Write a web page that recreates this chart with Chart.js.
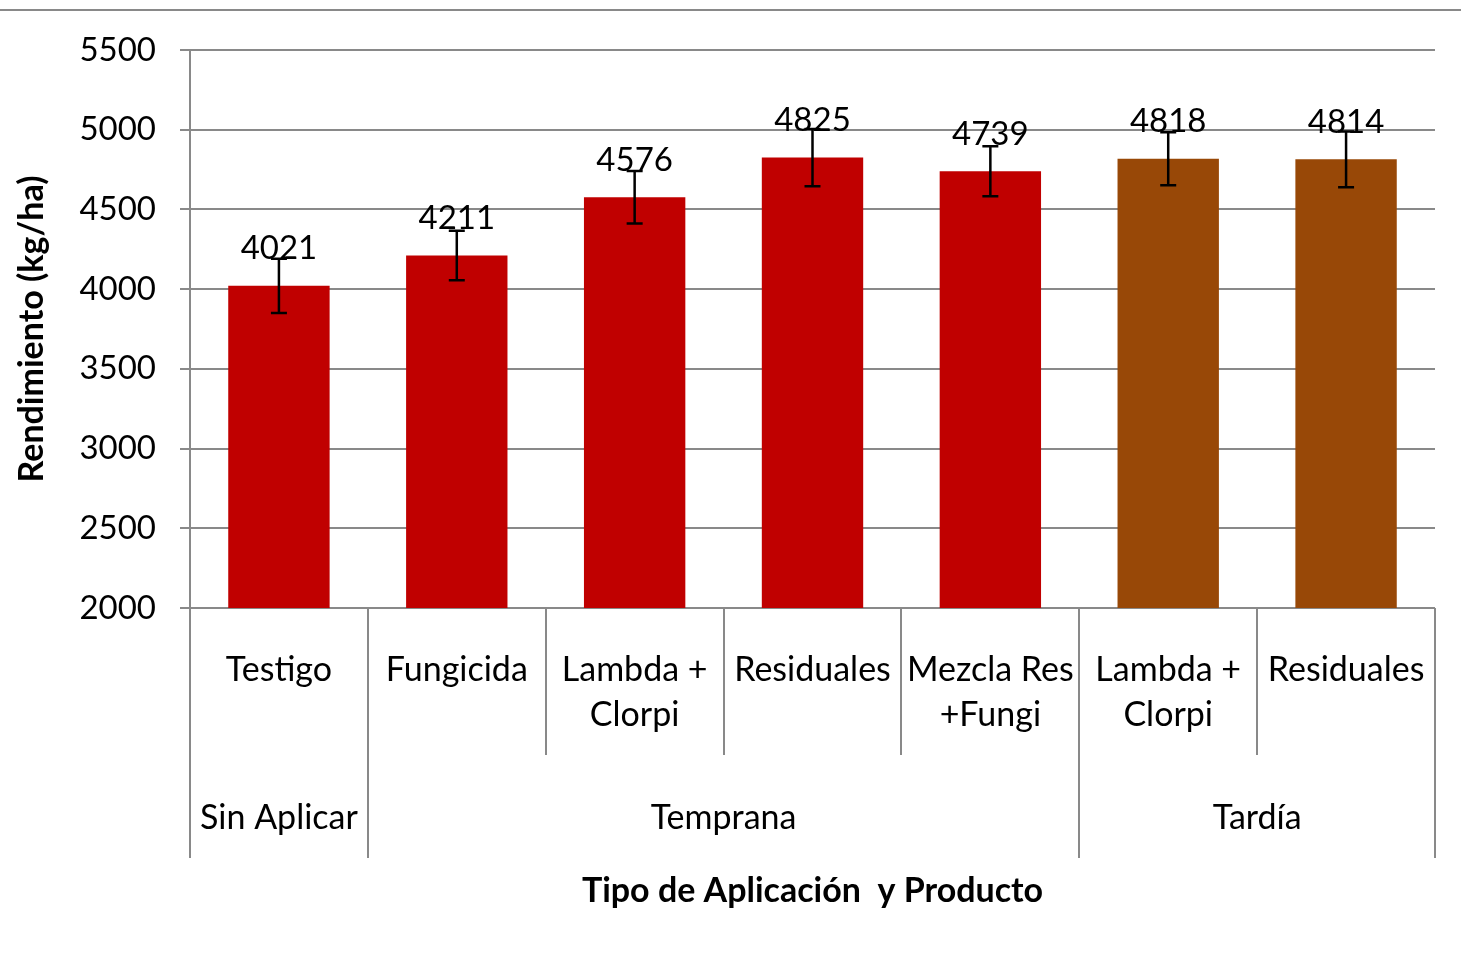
<!DOCTYPE html>
<html><head><meta charset="utf-8">
<script src="https://cdn.jsdelivr.net/npm/chart.js@4.4.0/dist/chart.umd.min.js"></script>
<style>html,body{margin:0;padding:0;background:#fff;} #wrap{width:1461px;height:954px;position:relative;}</style>
</head><body><div id="wrap"><canvas id="c" width="1461" height="954"></canvas></div>
<script>
// ---- data ----
const categories = [["Testigo"],["Fungicida"],["Lambda +","Clorpi"],["Residuales"],["Mezcla Res","+Fungi"],["Lambda +","Clorpi"],["Residuales"]];
const groupLabels = ["Sin Aplicar","Temprana","Tardía"];
const groupSizes = [1,4,2];
const yieldValues = [4021,4211,4576,4825,4739,4818,4814];
const errorValues = [170,155,165,180,157,166,175];
const yTicks = [2000,2500,3000,3500,4000,4500,5000,5500];
const yTitle = "Rendimiento (kg/ha)";
const xTitle = "Tipo de Aplicación  y Producto";

// ---- styles ----
const RED = '#C00000', BROWN = '#984807', GRID = '#898989';
const FONT = 'Lato';
const groupOfCat = [];
groupSizes.forEach((n,g)=>{ for(let k=0;k<n;k++) groupOfCat.push(g); });
const barColors = groupOfCat.map(g => g === 2 ? BROWN : RED);

const overlay = {
  id: 'overlay',
  afterDraw(chart) {
    const {ctx, chartArea, scales:{x, y}} = chart;
    ctx.save();
    // top border line
    ctx.strokeStyle = GRID; ctx.lineWidth = 2;
    ctx.beginPath(); ctx.moveTo(0, 10); ctx.lineTo(1461, 10); ctx.stroke();

    const meta = chart.getDatasetMeta(0);
    // value labels
    ctx.fillStyle = '#000';
    ctx.font = `33px ${FONT}`;
    ctx.textAlign = 'center'; ctx.textBaseline = 'middle';
    meta.data.forEach((bar, i) => {
      ctx.fillText(String(yieldValues[i]), bar.x, bar.y - 37);
    });
    // error bars
    ctx.strokeStyle = '#000'; ctx.lineWidth = 2.5;
    meta.data.forEach((bar, i) => {
      const yt = y.getPixelForValue(yieldValues[i] + errorValues[i]);
      const yb = y.getPixelForValue(yieldValues[i] - errorValues[i]);
      ctx.beginPath();
      ctx.moveTo(bar.x, yt); ctx.lineTo(bar.x, yb);
      ctx.moveTo(bar.x - 8, yt); ctx.lineTo(bar.x + 8, yt);
      ctx.moveTo(bar.x - 8, yb); ctx.lineTo(bar.x + 8, yb);
      ctx.stroke();
    });

    // category axis (two levels)
    const half = (x.getPixelForValue(1) - x.getPixelForValue(0)) / 2;
    const bound = i => x.getPixelForValue(0) - half + i * 2 * half;
    const groupBounds = [0];
    groupSizes.reduce((a, n) => { groupBounds.push(a + n); return a + n; }, 0);
    ctx.strokeStyle = GRID; ctx.lineWidth = 2;
    for (let i = 0; i <= categories.length; i++) {
      const bx = Math.round(bound(i));
      const full = groupBounds.includes(i);
      ctx.beginPath(); ctx.moveTo(bx, chartArea.bottom); ctx.lineTo(bx, full ? 858 : 755); ctx.stroke();
    }
    ctx.fillStyle = '#000';
    ctx.font = `34px ${FONT}`;
    categories.forEach((lines, i) => {
      const cx = x.getPixelForValue(i);
      lines.forEach((t, k) => ctx.fillText(t, cx, 670 + k * 45));
    });
    groupLabels.forEach((t, g) => {
      const cx = (bound(groupBounds[g]) + bound(groupBounds[g+1])) / 2;
      ctx.fillText(t, cx, 818);
    });

    // axis titles
    ctx.font = `bold 34px ${FONT}`;
    ctx.fillText(xTitle, (chartArea.left + chartArea.right) / 2, 891);
    ctx.save();
    ctx.translate(32, (chartArea.top + chartArea.bottom) / 2);
    ctx.rotate(-Math.PI / 2);
    ctx.fillText(yTitle, 0, 0);
    ctx.restore();
    ctx.restore();
  }
};

function build() {
  new Chart(document.getElementById('c'), {
    type: 'bar',
    data: {
      labels: categories.map(c => c.join(' ')),
      datasets: [{
        data: yieldValues,
        backgroundColor: barColors,
        borderWidth: 0,
        barPercentage: 0.57,
        categoryPercentage: 1
      }]
    },
    options: {
      responsive: false,
      animation: false,
      devicePixelRatio: 1,
      layout: { padding: { left: 0, top: 50, right: 26, bottom: 346 } },
      plugins: { legend: { display: false }, tooltip: { enabled: false } },
      scales: {
        x: { display: false },
        y: {
          min: 2000, max: 5500,
          afterBuildTicks: s => { s.ticks = yTicks.map(v => ({ value: v })); },
          afterFit: s => { s.width = 190; },
          ticks: { color: '#000', font: { family: FONT, size: 33 }, padding: 24, callback: v => String(v) },
          grid: { color: GRID, lineWidth: 2, tickLength: 10, drawTicks: true },
          border: { display: true, color: GRID, width: 2 }
        }
      }
    },
    plugins: [overlay]
  });
}
Promise.all([
  document.fonts.load(`32px ${FONT}`),
  document.fonts.load(`bold 30px ${FONT}`)
]).then(build, build);
</script>
</body></html>
